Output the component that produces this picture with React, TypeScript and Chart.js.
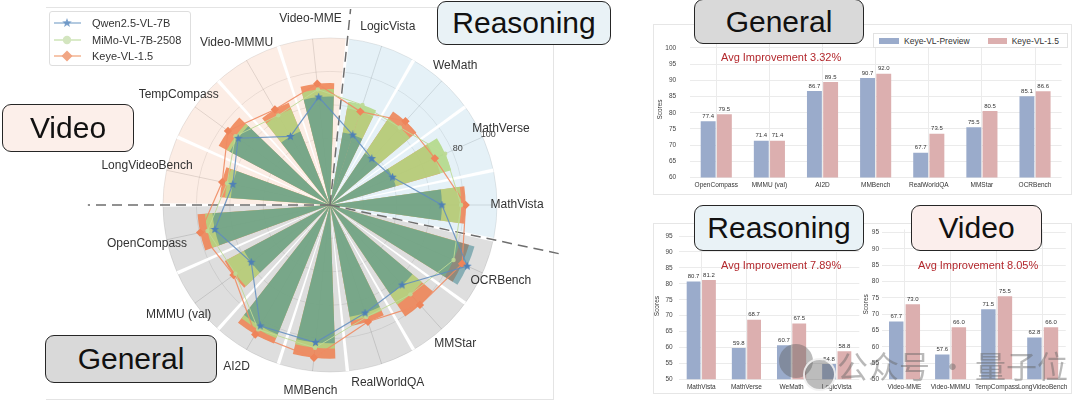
import React, { useEffect, useRef } from 'react';
import { Chart, registerables } from 'chart.js';

Chart.register(...registerables);

const FONT = "'Liberation Sans', Arial, Helvetica, sans-serif";
Chart.defaults.font.family = FONT;

// ---------------- Radar (left) data ----------------
const radarCategories = [
  'LogicVista', 'WeMath', 'MathVerse', 'MathVista', 'OCRBench', 'MMStar', 'RealWorldQA',
  'MMBench', 'AI2D', 'MMMU (val)', 'OpenCompass', 'LongVideoBench', 'TempCompass', 'Video-MMMU', 'Video-MME',
];
const radarGroups = [
  'Reasoning', 'Reasoning', 'Reasoning', 'Reasoning',
  'General', 'General', 'General', 'General', 'General', 'General', 'General',
  'Video', 'Video', 'Video', 'Video',
];
const qwenScores = [44.1, 37.4, 41.0, 67.0, 90.0, 64.5, 68.0, 82.8, 83.6, 58.3, 70.5, 59.5, 68.0, 47.4, 65.0];
const mimoScores = [63.0, 62.5, 75.5, 78.5, 81.0, 72.0, 70.5, 86.0, 86.0, 70.0, 75.0, 63.0, 70.0, 62.0, 69.5];
const keyeScores = [58.8, 67.5, 68.7, 81.2, 86.6, 80.5, 73.5, 92.0, 89.5, 71.4, 79.5, 66.0, 75.5, 66.0, 73.0];
const radarTickLabels = [80, 100];
const modelNames = ['Qwen2.5-VL-7B', 'MiMo-VL-7B-2508', 'Keye-VL-1.5'];

// ---------------- Bar charts (right) data ----------------
const barSeriesNames = ['Keye-VL-Preview', 'Keye-VL-1.5'];
const generalLabels = ['OpenCompass', 'MMMU (val)', 'AI2D', 'MMBench', 'RealWorldQA', 'MMStar', 'OCRBench'];
const generalPreview = [77.4, 71.4, 86.7, 90.7, 67.7, 75.5, 85.1];
const generalV15 = [79.5, 71.4, 89.5, 92.0, 73.5, 80.5, 86.6];
const reasoningLabels = ['MathVista', 'MathVerse', 'WeMath', 'LogicVista'];
const reasoningPreview = [80.7, 59.8, 60.7, 54.8];
const reasoningV15 = [81.2, 68.7, 67.5, 58.8];
const videoLabels = ['Video-MME', 'Video-MMMU', 'TempCompass', 'LongVideoBench'];
const videoPreview = [67.7, 57.6, 71.5, 62.8];
const videoV15 = [73.0, 66.0, 75.5, 66.0];
const generalTicks = [60, 65, 70, 75, 80, 85, 90, 95, 100];
const lowerTicks = [50, 55, 60, 65, 70, 75, 80, 85, 90, 95];
const improvements = ['3.32%', '7.89%', '8.05%'];

// ---------------- styles ----------------
const groupFill: Record<string, string> = {
  Reasoning: 'rgba(170, 210, 230, 0.30)',
  General: 'rgba(140, 140, 140, 0.29)',
  Video: 'rgba(245, 190, 160, 0.28)',
};
const radarBarColors = ['rgba(65,135,145,0.55)', 'rgba(176,216,130,0.85)', 'rgba(238,128,80,0.85)'];
const BLUE = '#9aabcb';
const PINK = '#dcafaf';

const WEDGE = 24;
const BAR = 16;
const GAP = WEDGE - BAR;
const SEP = 1.2;

function barLayout(vals: number[]) {
  const data: number[] = [vals[0]];
  const angle: number[] = [BAR / 2];
  const isBar: boolean[] = [true];
  for (let k = 1; k < vals.length; k++) {
    data.push(0, vals[k]);
    angle.push(GAP, BAR);
    isBar.push(false, true);
  }
  data.push(0, vals[0]);
  angle.push(GAP, BAR / 2);
  isBar.push(false, true);
  return { data, angle, isBar };
}
function wedgeLayout(n: number) {
  const data = [100];
  const angle = [WEDGE / 2];
  const cat = [0];
  for (let k = 1; k < n; k++) {
    data.push(100);
    angle.push(WEDGE);
    cat.push(k);
  }
  data.push(100);
  angle.push(WEDGE / 2);
  cat.push(0);
  return { data, angle, cat };
}
function sepLayout(n: number) {
  const data = [0];
  const angle = [WEDGE / 2 - SEP / 2];
  for (let k = 0; k < n; k++) {
    data.push(100, 0);
    angle.push(SEP, k < n - 1 ? WEDGE - SEP : WEDGE / 2 - SEP / 2);
  }
  return { data, angle };
}

function makeStar(size: number, color: string) {
  const c = document.createElement('canvas');
  c.width = size;
  c.height = size;
  const g = c.getContext('2d')!;
  g.fillStyle = color;
  g.beginPath();
  for (let k = 0; k < 10; k++) {
    const rr = k % 2 === 0 ? size / 2 : size / 4.6;
    const a = -Math.PI / 2 + (k * Math.PI) / 5;
    g.lineTo(size / 2 + rr * Math.cos(a), size / 2 + rr * Math.sin(a));
  }
  g.closePath();
  g.fill();
  return c;
}

const dividerLengths = [1.18, 1.4, 1.45];
const LABEL_VALUE = 112;

const radarDecor = {
  id: 'radarDecor',
  afterDatasetDraw(chart: any, args: any) {
    if (args.index !== 3) return;
    const r = chart.scales.r;
    const ctx = chart.ctx;
    const n = radarGroups.length;
    const bounds: number[] = [];
    for (let i = 0; i < n; i++) {
      if (radarGroups[(i - 1 + n) % n] !== radarGroups[i]) bounds.push(i - 0.5);
    }
    ctx.save();
    ctx.setLineDash([10, 6]);
    ctx.strokeStyle = '#6e6e6e';
    ctx.lineWidth = 1.5;
    bounds.forEach((b, j) => {
      const p = r.getPointPosition(b, r.drawingArea * dividerLengths[j]);
      ctx.beginPath();
      ctx.moveTo(r.xCenter, r.yCenter);
      ctx.lineTo(p.x, p.y);
      ctx.stroke();
    });
    ctx.restore();
  },
  afterDraw(chart: any) {
    const r = chart.scales.r;
    const ctx = chart.ctx;
    ctx.save();
    ctx.font = `12px ${FONT}`;
    ctx.fillStyle = '#333';
    ctx.textAlign = 'center';
    ctx.textBaseline = 'middle';
    radarCategories.forEach((lab, i) => {
      const p = r.getPointPositionForValue(i, LABEL_VALUE);
      ctx.fillText(lab, p.x, p.y);
    });
    ctx.font = `9px ${FONT}`;
    ctx.fillStyle = '#444';
    const idx = radarCategories.indexOf('MathVerse');
    radarTickLabels.forEach((t) => {
      const p = r.getPointPositionForValue(idx, t + 3.8);
      ctx.fillText(String(t), p.x, p.y);
    });
    ctx.restore();
  },
};

function RadarChart() {
  const ref = useRef<HTMLCanvasElement | null>(null);
  useEffect(() => {
    if (!ref.current) return;
    const n = radarCategories.length;
    const star = makeStar(9, 'rgb(78,128,182)');
    const bars = [qwenScores, mimoScores, keyeScores].map(barLayout);
    const wedge = wedgeLayout(n);
    const sep = sepLayout(n);
    const datasets: any[] = [
      {
        type: 'radar', label: modelNames[0], data: qwenScores, borderColor: 'rgba(95,140,190,0.85)',
        borderWidth: 1.2, pointStyle: star, pointRadius: 4.5, fill: false,
      },
      {
        type: 'radar', label: modelNames[1], data: mimoScores, borderColor: 'rgba(190,218,150,0.9)',
        borderWidth: 1, pointStyle: 'circle', pointRadius: 2.2, pointBackgroundColor: 'rgba(190,218,150,0.9)',
        pointBorderWidth: 0, fill: false,
      },
      {
        type: 'radar', label: modelNames[2], data: keyeScores, borderColor: 'rgba(240,140,100,0.9)',
        borderWidth: 1.2, pointStyle: 'rectRot', pointRadius: 4.2, pointBackgroundColor: 'rgb(238,132,90)',
        pointBorderWidth: 0, fill: false,
      },
      ...bars.map((b, j) => ({
        label: modelNames[j] + ' bar',
        data: b.data,
        angle: (c: any) => b.angle[c.dataIndex],
        backgroundColor: (c: any) => (b.isBar[c.dataIndex] ? radarBarColors[j] : 'rgba(0,0,0,0)'),
        borderWidth: 0,
      })),
      {
        label: 'sep',
        data: sep.data,
        angle: (c: any) => sep.angle[c.dataIndex],
        backgroundColor: (c: any) => (sep.data[c.dataIndex] ? '#ffffff' : 'rgba(0,0,0,0)'),
        borderWidth: 0,
      },
      {
        label: 'bg',
        data: wedge.data,
        angle: (c: any) => wedge.angle[c.dataIndex],
        backgroundColor: (c: any) => groupFill[radarGroups[wedge.cat[c.dataIndex]]],
        borderWidth: 0,
      },
    ];
    const chart = new Chart(ref.current, {
      type: 'polarArea',
      data: { labels: radarCategories, datasets },
      options: {
        animation: false,
        responsive: true,
        maintainAspectRatio: false,
        layout: { padding: { left: 163, top: 38, right: 143, bottom: 40 } },
        plugins: {
          legend: { display: false, labels: { generateLabels: () => [] } },
          tooltip: { enabled: false },
        },
        scales: {
          r: {
            min: 0,
            max: 100,
            startAngle: 18,
            ticks: { display: false, stepSize: 20 },
            grid: { circular: true, color: 'rgba(0,0,0,0.10)', lineWidth: 1 },
            angleLines: { display: true, color: 'rgba(0,0,0,0.17)', lineWidth: 0.9 },
            pointLabels: { display: false },
          },
        },
      } as any,
      plugins: [radarDecor],
    } as any);
    return () => chart.destroy();
  }, []);
  return (
    <div style={{ position: 'absolute', left: 0, top: 0, width: 640, height: 412 }}>
      <canvas ref={ref} />
    </div>
  );
}

const valueLabels = {
  id: 'valueLabels',
  afterDatasetsDraw(chart: any) {
    const ctx = chart.ctx;
    ctx.save();
    ctx.font = `6px ${FONT}`;
    ctx.fillStyle = '#333';
    ctx.textAlign = 'center';
    ctx.textBaseline = 'bottom';
    chart.data.datasets.forEach((ds: any, di: number) => {
      const meta = chart.getDatasetMeta(di);
      meta.data.forEach((el: any, i: number) => {
        ctx.fillText(Number(ds.data[i]).toFixed(1), el.x, el.y - 2);
      });
    });
    ctx.restore();
  },
};

type BarProps = {
  left: number; top: number; width: number; height: number;
  labels: string[]; a: number[]; b: number[]; ticks: number[]; yMax: number;
  yWidth: number; xHeight: number; padRight: number; padTop: number;
  tickPad: number; titlePad: number; cp: number; bp: number;
};

function BarChart(p: BarProps) {
  const ref = useRef<HTMLCanvasElement | null>(null);
  useEffect(() => {
    if (!ref.current) return;
    const tickFont = { size: 6.5, family: FONT };
    const chart = new Chart(ref.current, {
      type: 'bar',
      data: {
        labels: p.labels,
        datasets: [
          { label: barSeriesNames[0], data: p.a, backgroundColor: BLUE, borderWidth: 0, categoryPercentage: p.cp, barPercentage: p.bp },
          { label: barSeriesNames[1], data: p.b, backgroundColor: PINK, borderWidth: 0, categoryPercentage: p.cp, barPercentage: p.bp },
        ],
      },
      options: {
        animation: false,
        responsive: true,
        maintainAspectRatio: false,
        layout: { padding: { left: 0, right: p.padRight, top: p.padTop, bottom: 0 } },
        plugins: { legend: { display: false }, tooltip: { enabled: false } },
        scales: {
          x: {
            grid: { offset: false, color: '#ebebeb', drawTicks: false },
            border: { display: false },
            ticks: { font: tickFont, color: '#333', autoSkip: false, maxRotation: 0, minRotation: 0, padding: 4 },
            afterFit: (s: any) => { s.height = p.xHeight; },
          },
          y: {
            min: p.ticks[0],
            max: p.yMax,
            afterBuildTicks: (s: any) => { s.ticks = p.ticks.map((v) => ({ value: v })); },
            grid: { color: '#ebebeb', drawTicks: false },
            border: { display: false },
            ticks: { font: tickFont, color: '#444', padding: p.tickPad },
            title: { display: true, text: 'Scores', font: tickFont, color: '#333', padding: { top: p.titlePad, bottom: 0 } },
            afterFit: (s: any) => { s.width = p.yWidth; },
          },
        },
      } as any,
      plugins: [valueLabels],
    } as any);
    return () => chart.destroy();
  }, []);
  return (
    <div style={{ position: 'absolute', left: p.left, top: p.top, width: p.width, height: p.height }}>
      <canvas ref={ref} />
    </div>
  );
}

function TitleBox(props: { left: number; top: number; width: number; height: number; bg: string; text: string }) {
  return (
    <div
      style={{
        position: 'absolute', left: props.left, top: props.top, width: props.width, height: props.height,
        boxSizing: 'border-box', border: '1.6px solid #262626', borderRadius: 9, background: props.bg,
        display: 'flex', alignItems: 'center', justifyContent: 'center', fontSize: 30, color: '#111',
        fontFamily: FONT, lineHeight: 1,
      }}
    >
      {props.text}
    </div>
  );
}

function LegendMarker({ kind }: { kind: number }) {
  const line = ['rgba(120,160,200,0.75)', 'rgba(200,225,175,0.9)', 'rgba(240,165,125,0.85)'][kind];
  return (
    <svg width={30} height={12} style={{ display: 'block' }}>
      <line x1={1} y1={6} x2={28} y2={6} stroke={line} strokeWidth={1.5} />
      {kind === 0 && (
        <polygon
          fill="rgba(100,145,195,0.85)"
          points={Array.from({ length: 10 }, (_, k) => {
            const rr = k % 2 === 0 ? 5 : 2.1;
            const a = -Math.PI / 2 + (k * Math.PI) / 5;
            return `${14 + rr * Math.cos(a)},${6 + rr * Math.sin(a)}`;
          }).join(' ')}
        />
      )}
      {kind === 1 && <circle cx={14} cy={6} r={4.2} fill="#d3e5bf" />}
      {kind === 2 && <polygon points="14,0.5 19.5,6 14,11.5 8.5,6" fill="#f1a684" />}
    </svg>
  );
}

export default function App() {
  const avgStyle: React.CSSProperties = {
    position: 'absolute', fontSize: 11, color: '#b3282d', fontFamily: FONT, whiteSpace: 'nowrap', lineHeight: '14px',
  };
  return (
    <div
      style={{
        position: 'absolute', left: 0, top: 0, width: 1080, height: 412, background: '#fff',
        overflow: 'hidden', fontFamily: FONT,
      }}
    >
      {/* radar frame */}
      <div
        style={{
          position: 'absolute', left: 46, top: 7, width: 508, height: 393, boxSizing: 'border-box',
          borderTop: '1px solid #e4e4e4', borderRight: '1px solid #e4e4e4', borderBottom: '1px solid #e4e4e4',
        }}
      />
      <RadarChart />

      {/* radar legend */}
      <div
        style={{
          position: 'absolute', left: 49, top: 11, width: 142, height: 55, boxSizing: 'border-box',
          border: '1px solid #dedede', borderRadius: 3, background: 'rgba(255,255,255,0.92)',
        }}
      >
        {modelNames.map((nm, k) => (
          <div key={nm} style={{ position: 'absolute', left: 3, top: 4 + k * 16.6, height: 14, display: 'flex', alignItems: 'center' }}>
            <LegendMarker kind={k} />
            <span style={{ marginLeft: 9, fontSize: 11, color: '#333', whiteSpace: 'nowrap' }}>{nm}</span>
          </div>
        ))}
      </div>

      <TitleBox left={2} top={104} width={132} height={48} bg="#fcefea" text="Video" />
      <TitleBox left={45} top={335} width={172} height={48} bg="#d9d9d9" text="General" />
      <TitleBox left={437} top={1} width={174} height={44} bg="#e9f2f6" text="Reasoning" />

      {/* right frames */}
      <div style={{ position: 'absolute', left: 653, top: 24, width: 419, height: 171, boxSizing: 'border-box', border: '1px solid #e6e6e6' }} />
      <div style={{ position: 'absolute', left: 653, top: 223, width: 419, height: 171, boxSizing: 'border-box', border: '1px solid #e6e6e6' }} />

      <BarChart
        left={653} top={24} width={419} height={171} labels={generalLabels} a={generalPreview} b={generalV15}
        ticks={generalTicks} yMax={102} yWidth={36.7} xHeight={16.1} padRight={10.4} padTop={4.5}
        tickPad={13.5} titlePad={3} cp={0.61} bp={0.92}
      />
      <BarChart
        left={653} top={223} width={209} height={171} labels={reasoningLabels} a={reasoningPreview} b={reasoningV15}
        ticks={lowerTicks} yMax={96} yWidth={25.7} xHeight={14.7} padRight={2.7} padTop={2.7}
        tickPad={6} titlePad={0} cp={0.68} bp={0.9}
      />
      <BarChart
        left={858} top={223} width={214} height={171} labels={videoLabels} a={videoPreview} b={videoV15}
        ticks={lowerTicks} yMax={96} yWidth={23.5} xHeight={14.7} padRight={4.8} padTop={2.7}
        tickPad={2.5} titlePad={4.8} cp={0.72} bp={0.87}
      />

      {/* general legend */}
      <div
        style={{
          position: 'absolute', left: 873, top: 33, width: 195, height: 15, boxSizing: 'border-box',
          border: '1px solid #e2e2e2', background: '#fff', display: 'flex', alignItems: 'center',
          fontSize: 8.5, color: '#333', whiteSpace: 'nowrap',
        }}
      >
        <span style={{ display: 'inline-block', width: 20, height: 6, background: BLUE, marginLeft: 5 }} />
        <span style={{ marginLeft: 5 }}>{barSeriesNames[0]}</span>
        <span style={{ display: 'inline-block', width: 19, height: 6, background: PINK, marginLeft: 18 }} />
        <span style={{ marginLeft: 5 }}>{barSeriesNames[1]}</span>
      </div>

      <div style={{ ...avgStyle, left: 721, top: 50 }}>Avg Improvement {improvements[0]}</div>
      <div style={{ ...avgStyle, left: 721, top: 258 }}>Avg Improvement {improvements[1]}</div>
      <div style={{ ...avgStyle, left: 918, top: 258 }}>Avg Improvement {improvements[2]}</div>

      <TitleBox left={694} top={-1} width={170} height={45} bg="#d9d9d9" text="General" />
      <TitleBox left={694} top={205} width={170} height={46} bg="#e9f2f6" text="Reasoning" />
      <TitleBox left={911} top={205} width={131} height={46} bg="#fbeeec" text="Video" />

      {/* watermark */}
      <div style={{ position: 'absolute', left: 779, top: 344, width: 34, height: 34, borderRadius: '50%', background: 'rgba(95,95,95,0.42)' }} />
      <div style={{ position: 'absolute', left: 803, top: 358, width: 29, height: 29, borderRadius: '50%', background: 'rgba(95,95,95,0.42)', border: '2px solid rgba(255,255,255,0.8)' }} />
      <div
        style={{
          position: 'absolute', left: 837, top: 345, fontSize: 31, lineHeight: '40px', color: 'rgba(100,100,100,0.45)',
          fontFamily: "'Noto Sans CJK SC', sans-serif", whiteSpace: 'nowrap',
        }}
      >
        公众号 · 量子位
      </div>
    </div>
  );
}
